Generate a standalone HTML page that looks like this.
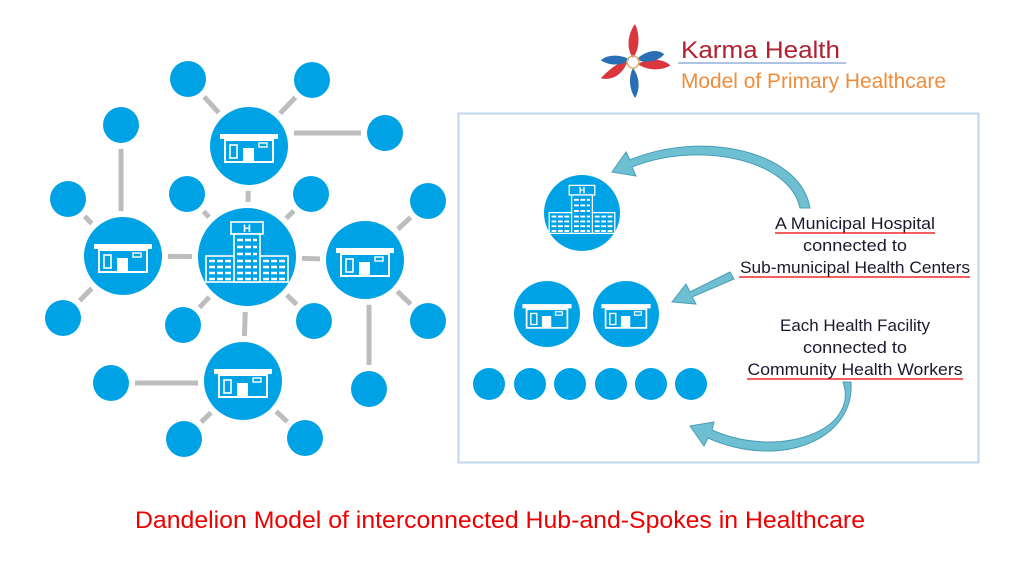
<!DOCTYPE html>
<html><head><meta charset="utf-8"><style>
body{margin:0;background:#fff;width:1035px;height:583px;overflow:hidden;font-family:"Liberation Sans",sans-serif}
</style></head><body>
<svg id="s" width="1035" height="583" xmlns="http://www.w3.org/2000/svg">
<defs>
<g id="clinic" fill="none" stroke="#fff" stroke-width="2">
<rect x="-29" y="-14" width="58" height="5" fill="#fff" stroke="none"/>
<rect x="-24" y="-8" width="48" height="22"/>
<rect x="-6" y="0" width="11" height="14" fill="#fff" stroke="none"/>
<rect x="-19" y="-3" width="7" height="13" stroke-width="1.6"/>
<rect x="10" y="-5" width="8" height="4" stroke-width="1.4"/>
</g>
<g id="hosp" fill="none" stroke="#fff" stroke-width="1.6">
<rect x="-16" y="-37" width="32" height="12"/>
<text x="0" y="-27" fill="#fff" stroke="none" font-size="11" font-weight="bold" text-anchor="middle" font-family="Liberation Sans">H</text>
<rect x="-41" y="-3" width="82" height="26"/>
<rect x="-13" y="-25" width="26" height="48" fill="#00a2e6"/>
<g stroke-width="2.4" stroke-dasharray="6 2">
<line x1="-10" y1="-19" x2="10" y2="-19"/><line x1="-10" y1="-12" x2="10" y2="-12"/><line x1="-10" y1="-5" x2="10" y2="-5"/>
<line x1="-10" y1="2" x2="10" y2="2"/><line x1="-10" y1="8" x2="10" y2="8"/><line x1="-10" y1="14" x2="10" y2="14"/><line x1="-10" y1="20" x2="10" y2="20"/>
<line x1="-38" y1="2" x2="-16" y2="2"/><line x1="-38" y1="8" x2="-16" y2="8"/><line x1="-38" y1="14" x2="-16" y2="14"/><line x1="-38" y1="20" x2="-16" y2="20"/>
<line x1="16" y1="2" x2="38" y2="2"/><line x1="16" y1="8" x2="38" y2="8"/><line x1="16" y1="14" x2="38" y2="14"/><line x1="16" y1="20" x2="38" y2="20"/>
</g>
</g>
</defs>
<g id="edges" stroke="#bdbdbd" stroke-width="5"></g>
<g id="nodes" fill="#00a2e6"></g>
<rect x="458.5" y="113.5" width="520" height="349" fill="none" stroke="#c0d6ee" stroke-width="2"/>
<g fill="#00a2e6">
<circle cx="582" cy="213" r="38"/>
<circle cx="547" cy="314" r="33"/><circle cx="626" cy="314" r="33"/>
<circle cx="489" cy="384" r="16"/><circle cx="530" cy="384" r="16"/><circle cx="570" cy="384" r="16"/><circle cx="611" cy="384" r="16"/><circle cx="651" cy="384" r="16"/><circle cx="691" cy="384" r="16"/>
</g>
<use href="#hosp" transform="translate(582,215) scale(0.8)"/>
<use href="#clinic" transform="translate(547,316) scale(0.85)"/>
<use href="#clinic" transform="translate(626,316) scale(0.85)"/>
<g fill="#6fbfd3" stroke="#4a9db5" stroke-width="1">
<path d="M810,208 C800,150 700,130 630,160 L626,152 L612,172 L636,176 L632,167 C700,140 790,160 800,208 Z"/>
<path d="M730,272 L690,292 L686,284 L672,302 L696,304 L692,297 L734,279 Z"/>
<path d="M843,382 C860,430 780,460 712,430 L714,422 L690,426 L704,446 L708,438 C780,470 855,440 851,382 Z"/>
</g>
<g font-family="Liberation Sans,sans-serif" font-size="16.5" fill="#1a1a2e" text-anchor="middle" lengthAdjust="spacingAndGlyphs">
<text x="855" y="229" textLength="160" lengthAdjust="spacingAndGlyphs">A Municipal Hospital</text>
<text x="855" y="251" textLength="104" lengthAdjust="spacingAndGlyphs">connected to</text>
<text x="855" y="273" textLength="230" lengthAdjust="spacingAndGlyphs">Sub-municipal Health Centers</text>
<text x="855" y="331" textLength="150" lengthAdjust="spacingAndGlyphs">Each Health Facility</text>
<text x="855" y="353" textLength="104" lengthAdjust="spacingAndGlyphs">connected to</text>
<text x="855" y="375" textLength="215" lengthAdjust="spacingAndGlyphs">Community Health Workers</text>
</g>
<g stroke="#e00" stroke-width="1.3">
<line x1="775" y1="233" x2="935" y2="233"/>
<line x1="739" y1="277" x2="970" y2="277"/>
<line x1="747" y1="379" x2="963" y2="379"/>
</g>
<g transform="translate(633,62)">
<g fill="#d9363e"><path d="M0,-4 C-8,-15 -4,-30 2,-38 C6,-30 8,-15 0,-4Z"/><path d="M4,4 C16,0 30,8 34,16 C24,18 12,14 4,4Z" transform="rotate(-20)"/><path d="M-4,4 C-8,16 -4,28 -2,36 C6,28 6,14 -4,4Z" transform="rotate(60)"/></g>
<g fill="#2a6fb5"><path d="M-4,-2 C-16,-6 -28,-2 -32,4 C-22,8 -10,6 -4,-2Z" transform="rotate(10)"/><path d="M4,-2 C16,-10 28,-8 32,-2 C24,4 12,4 4,-2Z" transform="rotate(-10)"/><path d="M0,6 C-6,18 -2,30 2,36 C8,26 6,14 0,6Z"/></g>
<circle r="6" fill="none" stroke="#d8b070" stroke-width="1.5"/>
</g>
<text x="681" y="58" font-family="Liberation Sans,sans-serif" font-size="24" fill="#b02030" textLength="159" lengthAdjust="spacingAndGlyphs">Karma Health</text>
<line x1="678" y1="63" x2="846" y2="63" stroke="#7aa0d0" stroke-width="1.2"/>
<text x="681" y="88" font-family="Liberation Sans,sans-serif" font-size="21" fill="#f08c3a" textLength="265" lengthAdjust="spacingAndGlyphs">Model of Primary Healthcare</text>
<text x="500" y="528" font-family="Liberation Sans,sans-serif" font-size="24" fill="#e00" text-anchor="middle" textLength="730" lengthAdjust="spacingAndGlyphs">Dandelion Model of interconnected Hub-and-Spokes in Healthcare</text>
</svg>
<script>
var NS="http://www.w3.org/2000/svg";
var big={T:[249,146,39],H:[247,257,49],L:[123,256,39],R:[365,260,39],B:[243,381,39]};
var small=[[188,79,'T'],[312,80,'T'],[385,133,'T'],[121,125,'L'],[187,194,'H'],[311,194,'H'],[68,199,'L'],[428,201,'R'],[63,318,'L'],[428,321,'R'],[183,325,'H'],[314,321,'H'],[111,383,'B'],[369,389,'R'],[184,439,'B'],[305,438,'B']];
var E=document.getElementById('edges'),N=document.getElementById('nodes');
function line(a,b,ra,rb){var dx=b[0]-a[0],dy=b[1]-a[1],d=Math.hypot(dx,dy),ux=dx/d,uy=dy/d;
var l=document.createElementNS(NS,'line');
l.setAttribute('x1',a[0]+ux*(ra+6));l.setAttribute('y1',a[1]+uy*(ra+6));
l.setAttribute('x2',b[0]-ux*(rb+6));l.setAttribute('y2',b[1]-uy*(rb+6));E.appendChild(l);}
small.forEach(function(s){var h=big[s[2]];
var p=[s[0],s[1]],q=[h[0],h[1]],rb=h[2];
if(s[0]==385){q=[h[0],133];}
if(s[0]==111){q=[h[0],383];}
if(s[0]==121||s[0]==369){q=[s[0],h[1]];rb=Math.sqrt(h[2]*h[2]-Math.pow(q[0]-h[0],2));}
line(p,q,18,rb);
var c=document.createElementNS(NS,'circle');c.setAttribute('cx',s[0]);c.setAttribute('cy',s[1]);c.setAttribute('r',18);N.appendChild(c);});
['T','L','R','B'].forEach(function(k){line(big.H,big[k],49,39);});
for(var k in big){var b=big[k];var c=document.createElementNS(NS,'circle');c.setAttribute('cx',b[0]);c.setAttribute('cy',b[1]);c.setAttribute('r',b[2]);N.appendChild(c);
var u=document.createElementNS(NS,'use');u.setAttribute('href',k=='H'?'#hosp':'#clinic');u.setAttribute('transform','translate('+b[0]+','+(b[1]+2)+')');N.parentNode.appendChild(u);}
</script>
</body></html>
